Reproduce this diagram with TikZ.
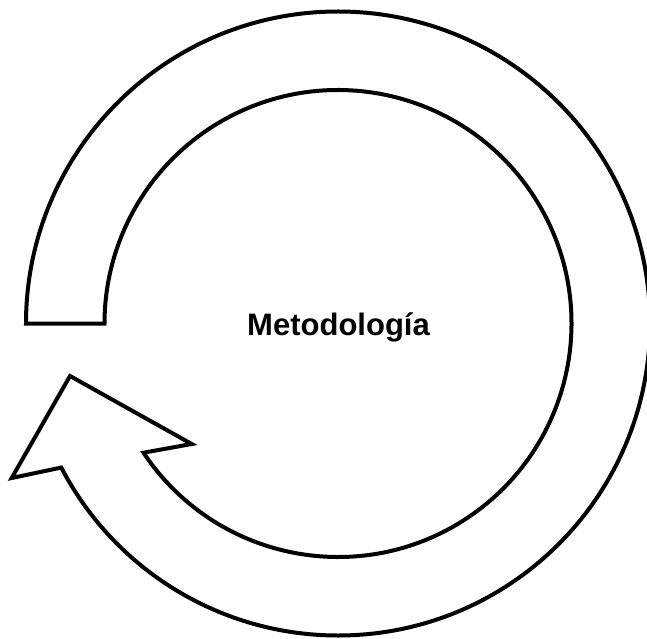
\documentclass[tikz,border=0pt]{standalone}
\usepackage{fontspec}
\setmainfont{Liberation Sans}
\usetikzlibrary{calc}
\begin{document}
\begin{tikzpicture}[x=1pt,y=1pt,
  ringarrow/.style={draw=black,line width=4pt,fill=white,line join=miter},
  label/.style={font=\bfseries\fontsize{31}{37}\selectfont,anchor=base,inner sep=0pt}]
  \useasboundingbox (0,0) rectangle (647,638);
  % centre of the ring and its two radii
  \coordinate (c) at (338,314.5);
  \def\ro{312}
  \def\ri{233.5}
  % arrowhead points
  \coordinate (oj) at ($(c)+(-152.5:\ro)$);
  \coordinate (ob) at (11.7,160);
  \coordinate (tip) at (70,262);
  \coordinate (ib) at (191.7,194);
  \coordinate (ij) at ($(c)+(-146.4:\ri)$);
  \coordinate (os) at ($(c)+(180:\ro)$);
  % circular arrow
  \draw[ringarrow] (os) arc[start angle=180,end angle=-152.5,radius=\ro]
    -- (ob) -- (tip) -- (ib) -- (ij)
    arc[start angle=-146.4,end angle=180,radius=\ri] -- cycle;
  \node[label] (t) at (338.5,303) {Metodología};
\end{tikzpicture}
\end{document}
